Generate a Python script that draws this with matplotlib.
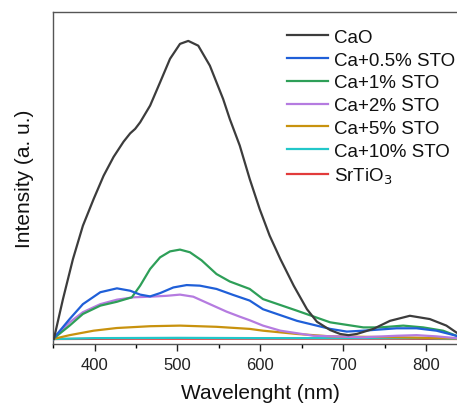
import matplotlib
matplotlib.use("Agg")
import matplotlib.pyplot as plt
from matplotlib.ticker import MultipleLocator

plt.rcParams['font.family'] = ['Liberation Sans', 'DejaVu Sans']

# values (CaO peak normalised to 1)
wl_cao = [351, 362, 374, 386, 399, 411, 423, 435, 443, 449, 455, 467, 479, 491, 503,
          513, 525, 539, 555, 563, 575, 587, 599, 611, 624, 640, 656, 668, 684, 696,
          706, 716, 736, 756, 780, 804, 824, 836, 850]
cao = [0.0, 0.134, 0.268, 0.38, 0.47, 0.548, 0.611, 0.662, 0.69, 0.705, 0.727, 0.783,
       0.861, 0.94, 0.99, 1.0, 0.984, 0.917, 0.805, 0.738, 0.649, 0.537, 0.436, 0.347,
       0.268, 0.179, 0.1, 0.058, 0.03, 0.017, 0.013, 0.017, 0.034, 0.061, 0.078, 0.067,
       0.045, 0.022, 0.0]

wl_05 = [350, 370, 386, 407, 427, 443, 455, 467, 479, 495, 511, 527, 547, 567, 587,
         603, 644, 684, 704, 724, 764, 788, 812, 836, 850]
sto_05 = [0.0, 0.067, 0.117, 0.157, 0.17, 0.162, 0.149, 0.143, 0.154, 0.173, 0.181,
          0.179, 0.168, 0.148, 0.129, 0.1, 0.061, 0.034, 0.025, 0.028, 0.036, 0.036,
          0.028, 0.011, 0.0]

wl_1 = [350, 370, 386, 407, 427, 445, 455, 467, 479, 491, 503, 515, 529, 547, 563,
        587, 603, 644, 684, 724, 744, 772, 796, 820, 836, 850]
sto_1 = [0.0, 0.045, 0.084, 0.112, 0.125, 0.14, 0.179, 0.235, 0.274, 0.294, 0.3, 0.291,
         0.264, 0.218, 0.193, 0.168, 0.134, 0.095, 0.056, 0.039, 0.039, 0.045, 0.039,
         0.028, 0.011, 0.0]

wl_2 = [350, 370, 386, 407, 427, 447, 467, 487, 503, 519, 539, 559, 575, 587, 603,
        624, 664, 724, 764, 788, 812, 836, 850]
sto_2 = [0.0, 0.056, 0.09, 0.117, 0.132, 0.14, 0.142, 0.145, 0.149, 0.142, 0.117,
         0.092, 0.075, 0.063, 0.045, 0.028, 0.011, 0.006, 0.011, 0.013, 0.009, 0.003,
         0.0]

wl_5 = [350, 370, 399, 427, 467, 503, 547, 587, 603, 644, 684, 764, 836, 850]
sto_5 = [0.0, 0.013, 0.028, 0.037, 0.043, 0.045, 0.041, 0.034, 0.028, 0.017, 0.009,
         0.006, 0.002, 0.0]

wl_10 = [350, 400, 500, 600, 700, 800, 850]
sto_10 = [0.0, 0.003, 0.004, 0.003, 0.003, 0.003, 0.0]

wl_sto = [350, 450, 550, 650, 750, 850]
srtio3 = [0.0, 0.001, 0.001, 0.001, 0.001, 0.0]

fig = plt.figure(figsize=(4.57, 4.06), dpi=100)
ax = fig.add_axes([0.116, 0.150, 0.908, 0.818])

lw = 1.6
ax.plot(wl_sto, srtio3, color='#e23b3b', lw=lw, label='SrTiO$_3$', zorder=2)
ax.plot(wl_10, sto_10, color='#22c7c9', lw=lw, label='Ca+10% STO', zorder=3)
ax.plot(wl_5, sto_5, color='#c8920e', lw=lw, label='Ca+5% STO', zorder=3)
ax.plot(wl_2, sto_2, color='#b57be0', lw=lw, label='Ca+2% STO', zorder=3)
ax.plot(wl_1, sto_1, color='#2e9f58', lw=lw, label='Ca+1% STO', zorder=3)
ax.plot(wl_05, sto_05, color='#1f5fd8', lw=lw, label='Ca+0.5% STO', zorder=4)
ax.plot(wl_cao, cao, color='#3c3c3c', lw=lw, label='CaO', zorder=5)

ax.set_xlim(350, 850)
ax.set_ylim(-0.017, 1.097)
ax.set_yticks([])
ax.xaxis.set_major_locator(MultipleLocator(100))
ax.xaxis.set_minor_locator(MultipleLocator(50))
ax.tick_params(axis='x', which='major', direction='out', length=5, width=1,
               labelsize=12, colors='#222222', pad=4)
ax.tick_params(axis='x', which='minor', direction='out', length=3, width=1)
for s in ['left', 'top', 'bottom']:
    ax.spines[s].set_color('#555555')
    ax.spines[s].set_linewidth(1)
ax.spines['right'].set_visible(False)

ax.set_xlabel('Wavelenght (nm)', fontsize=15, color='#111111', labelpad=8)
ax.set_ylabel('Intensity (a. u.)', fontsize=15, color='#111111', labelpad=14)

handles, labels = ax.get_legend_handles_labels()
leg = fig.legend(handles[::-1], labels[::-1], loc='upper left',
                 bbox_to_anchor=(0.612, 0.945), frameon=False, fontsize=13.5,
                 handlelength=2.2, handletextpad=0.3, labelspacing=0.3,
                 borderaxespad=0)
for t in leg.get_texts():
    t.set_color('#111111')

fig.savefig('out.png', dpi=100)
